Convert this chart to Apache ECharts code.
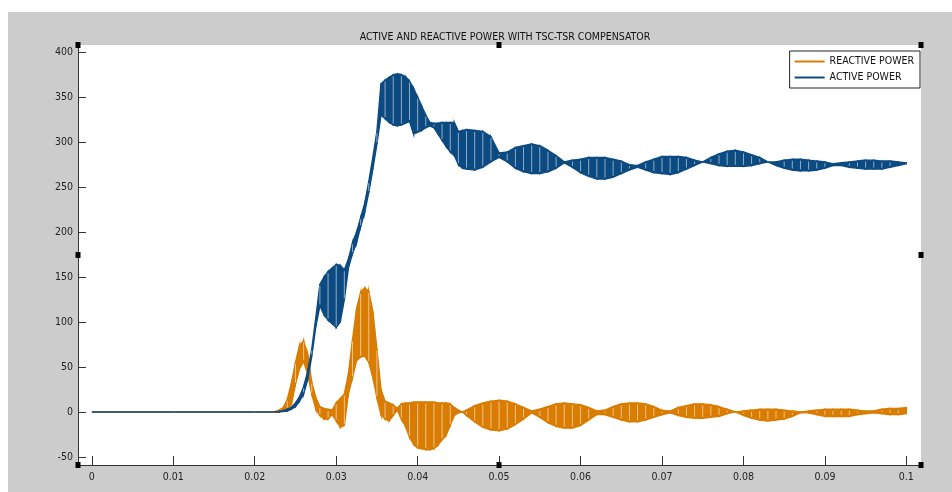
<!DOCTYPE html>
<html>
<head>
<meta charset="utf-8">
<title>TSC-TSR power</title>
<script src="https://cdn.jsdelivr.net/npm/echarts@6/dist/echarts.min.js"></script>
<style>
	html, body { margin: 0; padding: 0; background: #fff; }
	#chart { width: 952px; height: 492px; }
</style>
</head>
<body>
<div id="chart"></div>
<script>
	// time (s)
	var time = [0, 0.01, 0.02, 0.022,
		0.0225, 0.023, 0.0235, 0.024, 0.0245, 0.025, 0.0255, 0.026, 0.0265, 0.027, 0.0275, 0.028,
		0.0285, 0.029, 0.0295, 0.030, 0.0305, 0.031, 0.0315, 0.032, 0.0325, 0.033, 0.0335, 0.034,
		0.0345, 0.035, 0.0355, 0.036, 0.0365, 0.037, 0.0375, 0.038, 0.0385, 0.039, 0.0395, 0.040,
		0.0405, 0.041, 0.0415, 0.042, 0.0425, 0.043, 0.0435, 0.044, 0.0445, 0.045, 0.0455, 0.046,
		0.047, 0.048, 0.049, 0.050, 0.051, 0.052, 0.053, 0.054, 0.055, 0.056, 0.057, 0.058, 0.059,
		0.060, 0.061, 0.062, 0.063, 0.064, 0.065, 0.066, 0.067, 0.068, 0.069, 0.070, 0.071, 0.072,
		0.073, 0.074, 0.075, 0.076, 0.077, 0.078, 0.079, 0.080, 0.081, 0.082, 0.083, 0.084, 0.085,
		0.086, 0.087, 0.088, 0.089, 0.090, 0.091, 0.092, 0.093, 0.094, 0.095, 0.096, 0.097, 0.098,
		0.099, 0.100]

	// reactive power, upper / lower envelope of the oscillation
	var reactiveHi = [0, 0, 0, 0,
		0.5, 2, 5, 14, 32, 55, 74, 79, 65, 33, 16, 6,
		4, 3, 2, 10, 15, 20, 42, 80, 115, 133, 138, 134,
		112, 70, 25, 12, 10, 8, 4, 9, 10, 10, 11, 11,
		11, 11, 11, 11, 10, 10, 10, 9, 5, 2, 0, 2,
		7, 10, 12, 13, 12, 9, 5, 1, 3, 6, 9, 10, 9,
		8, 5, 1, 2, 6, 9, 10, 10, 9, 6, 2, 1, 5,
		7, 9, 9, 8, 6, 3, 0, 1, 2, 3, 3, 3, 2,
		1, 0, 1, 2, 3, 3, 3, 3, 2, 1, 1, 3, 4,
		4, 5]
	var reactiveLo = [0, 0, 0, 0,
		0, 0, 1, 3, 8, 31, 48, 56, 42, 20, 3, -4,
		-8, -8, -3, -10, -17, -15, 20, 38, 57, 61, 62, 55,
		38, 16, -3, -8, -10, -4, 2, -8, -16, -28, -36, -40,
		-41, -42, -42, -41, -37, -31, -26, -15, -4, -1, 0, -4,
		-11, -17, -20, -21, -19, -14, -8, -1, -6, -12, -16, -18, -18,
		-15, -9, -3, -3, -6, -9, -11, -11, -9, -6, -3, -1, -4,
		-6, -7, -7, -6, -5, -2, 0, -4, -7, -9, -10, -9, -8,
		-5, -1, -1, -3, -5, -5, -5, -5, -3, -2, -1, -2, -3,
		-3, -2]

	// active power, upper / lower envelope of the oscillation
	var activeHi = [0, 0, 0, 0,
		0, 0.5, 1.5, 3, 5, 10, 17, 28, 45, 70, 105, 142,
		150, 156, 160, 164, 163, 158, 170, 188, 200, 216, 232, 256,
		283, 312, 365, 369, 372, 375, 376, 375, 373, 368, 360, 350,
		340, 330, 322, 321, 321, 322, 322, 322, 322, 312, 313, 314,
		313, 312, 306, 288, 289, 294, 296, 298, 296, 291, 285, 278, 280,
		281, 283, 283, 283, 281, 279, 275, 274, 278, 281, 284, 284, 284,
		283, 280, 278, 283, 287, 290, 291, 289, 286, 283, 278, 278, 280,
		281, 281, 280, 279, 278, 276, 277, 278, 279, 280, 280, 279, 279,
		278, 277]
	var activeLo = [0, 0, 0, 0,
		0, 0, 0.5, 1, 3, 6, 12, 20, 36, 62, 95, 118,
		108, 102, 98, 94, 100, 125, 160, 176, 188, 206, 222, 244,
		270, 298, 330, 326, 322, 319, 318, 319, 321, 323, 309, 311,
		313, 316, 318, 316, 309, 302, 295, 289, 285, 275, 271, 270,
		269, 272, 278, 283, 278, 271, 267, 265, 265, 267, 271, 277, 272,
		266, 262, 259, 259, 261, 265, 269, 272, 269, 266, 265, 264, 266,
		270, 274, 278, 276, 274, 273, 273, 273, 274, 276, 278, 274, 271,
		269, 268, 268, 269, 271, 274, 274, 272, 271, 270, 270, 270, 272,
		274, 276]

	var xTicks = [0, 0.01, 0.02, 0.03, 0.04, 0.05, 0.06, 0.07, 0.08, 0.09, 0.1]
	var yTicks = [-50, 0, 50, 100, 150, 200, 250, 300, 350, 400]

	var font = "'DejaVu Sans Condensed', 'Liberation Sans Narrow', sans-serif"
	var orange = '#d97c00'
	var blue = '#0c4a82'

	// each item is one slice of the oscillation band: [t0, hi0, lo0, t1, hi1, lo1]
	function slices(hi, lo) {
		var out = []
		for (var i = 0; i < time.length - 1; i++) {
			out.push([time[i], hi[i], lo[i], time[i + 1], hi[i + 1], lo[i + 1]])
		}
		return out
	}

	function renderSlice(params, api) {
		var color = api.visual('color')
		var t = api.value(0)
		var a = api.coord([t, api.value(1)])
		var b = api.coord([api.value(3), api.value(4)])
		var c = api.coord([api.value(3), api.value(5)])
		var d = api.coord([t, api.value(2)])
		var children = [{
			type: 'polygon',
			shape: { points: [a, b, c, d] },
			style: { fill: color, stroke: color, lineWidth: 1.4 }
		}]
		// pale stripe every millisecond, like the aliasing lines of the dense trace
		var whole = Math.abs(t * 1000 - Math.round(t * 1000)) < 1e-6
		if (whole && d[1] - a[1] > 4 && t > 0.02) {
			children.push({
				type: 'line',
				shape: { x1: a[0], y1: a[1] + 1.5, x2: d[0], y2: d[1] - 1.5 },
				style: { stroke: 'rgba(255,255,255,0.55)', lineWidth: 1 }
			})
		}
		return { type: 'group', children: children }
	}

	function band(name, hi, lo, color) {
		return {
			name: name,
			type: 'custom',
			renderItem: renderSlice,
			data: slices(hi, lo),
			encode: { x: [0, 3], y: [1, 2, 4, 5] },
			itemStyle: { color: color, borderColor: color },
			clip: true
		}
	}

	function handle(x, y) {
		return {
			type: 'rect',
			shape: { x: x - 2.5, y: y - 3, width: 5, height: 6 },
			style: { fill: '#000' },
			z: 100
		}
	}

	var option = {
		animation: false,
		backgroundColor: '#cccccc',
		title: {
			text: 'ACTIVE AND REACTIVE POWER WITH TSC-TSR COMPENSATOR',
			left: 500,
			top: 27,
			textAlign: 'center',
			textStyle: {
				fontFamily: font,
				fontSize: 10.5,
				fontWeight: 'normal',
				color: '#111'
			}
		},
		legend: {
			orient: 'vertical',
			right: 32,
			top: 51,
			padding: [5, 6, 5, 5],
			itemGap: 5,
			itemWidth: 30,
			itemHeight: 2,
			icon: 'rect',
			backgroundColor: '#fff',
			borderColor: '#222',
			borderWidth: 1,
			borderRadius: 0,
			itemStyle: { borderWidth: 0 },
			data: [
				{ name: 'REACTIVE POWER', itemStyle: { color: orange, borderWidth: 0 }, lineStyle: { color: orange } },
				{ name: 'ACTIVE POWER', itemStyle: { color: blue, borderWidth: 0 }, lineStyle: { color: blue } }
			],
			textStyle: {
				fontFamily: font,
				fontSize: 10.5,
				color: '#111'
			}
		},
		grid: {
			show: true,
			left: 78,
			right: 31,
			top: 45,
			bottom: 27,
			backgroundColor: '#fff',
			borderWidth: 0
		},
		xAxis: {
			type: 'value',
			min: -0.0017,
			max: 0.1018,
			axisLine: {
				onZero: false,
				lineStyle: { color: '#333', width: 1 }
			},
			axisTick: {
				inside: true,
				length: 9,
				customValues: xTicks,
				lineStyle: { color: '#333' }
			},
			axisLabel: {
				customValues: xTicks,
				margin: 7,
				fontFamily: font,
				fontSize: 10.5,
				color: '#222',
				formatter: function (v) {
					return String(+v.toFixed(2))
				}
			},
			splitLine: { show: false }
		},
		yAxis: {
			type: 'value',
			min: -59,
			max: 408,
			axisLine: {
				show: true,
				onZero: false,
				lineStyle: { color: '#333', width: 1 }
			},
			axisTick: {
				show: true,
				inside: true,
				length: 8,
				customValues: yTicks,
				lineStyle: { color: '#333' }
			},
			axisLabel: {
				customValues: yTicks,
				margin: 5,
				fontFamily: font,
				fontSize: 10.5,
				color: '#222'
			},
			splitLine: { show: false }
		},
		graphic: [{
			type: 'rect',
			shape: { x: 0, y: 0, width: 952, height: 12 },
			style: { fill: '#fff' },
			silent: true
		}, {
			type: 'rect',
			shape: { x: 0, y: 0, width: 8, height: 492 },
			style: { fill: '#fff' },
			silent: true
		},
			handle(78, 45), handle(499, 45), handle(921, 45),
			handle(78, 255), handle(921, 255),
			handle(78, 465), handle(499, 465), handle(921, 465)
		],
		series: [
			band('REACTIVE POWER', reactiveHi, reactiveLo, orange),
			band('ACTIVE POWER', activeHi, activeLo, blue)
		]
	}

	var chart = echarts.init(document.getElementById('chart'))
	chart.setOption(option, true)
</script>
</body>
</html>
